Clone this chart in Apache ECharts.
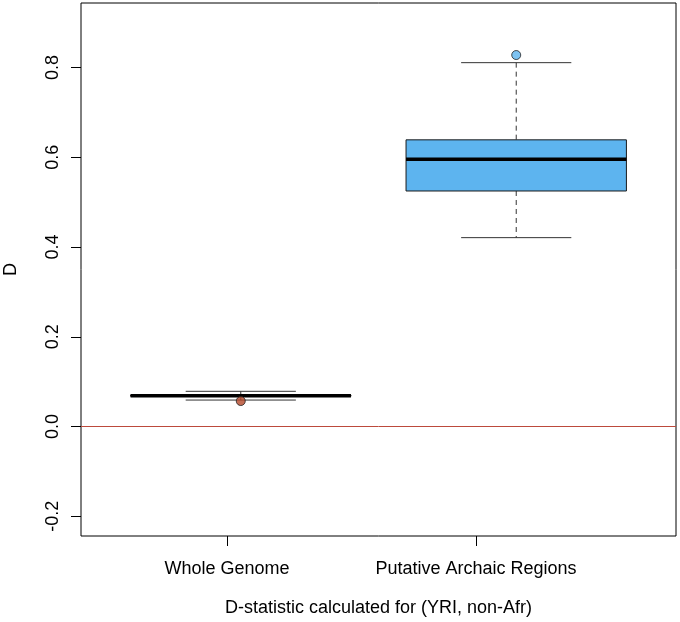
<!DOCTYPE html>
<html>
<head>
<meta charset="utf-8">
<script src="https://cdn.jsdelivr.net/npm/echarts@6/dist/echarts.min.js"></script>
<style>html,body{margin:0;padding:0;background:#fff;}#c{width:680px;height:622px;}</style>
</head>
<body>
<div id="c"></div>
<script>
// ---- data ----
const categories = ['Whole Genome', 'Putative Archaic Regions'];
const boxPositions = [1, 2];
const labelPositions = [0.95, 1.854];
const whiskerLow = [0.059, 0.421];
const q1 = [0.0675, 0.525];
const median = [0.0687, 0.596];
const q3 = [0.0700, 0.639];
const whiskerHigh = [0.0785, 0.811];
const outlierX = [1, 2];
const outlierY = [0.0568, 0.828];
const boxColors = ['#B5492B', '#5DB4EF'];
const yTicks = [-0.2, 0.0, 0.2, 0.4, 0.6, 0.8];

const font = '"Liberation Sans", Arial, Helvetica, sans-serif';
const boxData = boxPositions.map((x, i) => [x, whiskerLow[i], q1[i], median[i], q3[i], whiskerHigh[i]]);
const outlierData = outlierX.map((x, i) => ({value: [x, outlierY[i]], itemStyle: {color: boxColors[i]}}));

const chart = echarts.init(document.getElementById('c'), null, {renderer: 'canvas'});
chart.setOption({
  animation: false,
  backgroundColor: '#fff',
  grid: {left: 81, right: 4, top: 3, bottom: 86, containLabel: false, outerBoundsMode: 'none',
         show: true, borderColor: '#000', borderWidth: 1, backgroundColor: 'transparent'},
  xAxis: {
    type: 'value', min: 0.42, max: 2.58,
    name: 'D-statistic calculated for (YRI, non-Afr)',
    nameLocation: 'middle', nameGap: 63,
    nameTextStyle: {fontFamily: font, fontSize: 18, color: '#000'},
    axisLine: {show: false, onZero: false},
    splitLine: {show: false},
    axisTick: {show: true, length: 10, inside: false, customValues: labelPositions, lineStyle: {color: '#000', width: 1}},
    axisLabel: {
      customValues: labelPositions, margin: 24,
      fontFamily: font, fontSize: 18, color: '#000',
      formatter: v => { const i = labelPositions.findIndex(p => Math.abs(p - v) < 1e-6); return i >= 0 ? categories[i] : ''; }
    }
  },
  yAxis: {
    type: 'value', min: -0.244, max: 0.944,
    name: 'D', nameLocation: 'middle', nameGap: 61, nameRotate: 90,
    nameTextStyle: {fontFamily: font, fontSize: 18, color: '#000'},
    axisLine: {show: false, onZero: false},
    splitLine: {show: false},
    axisTick: {show: true, length: 10, customValues: yTicks, lineStyle: {color: '#000', width: 1}},
    axisLabel: {
      customValues: yTicks, rotate: 90, margin: 19,
      fontFamily: font, fontSize: 18, color: '#000',
      formatter: v => v.toFixed(1)
    }
  },
  series: [
    {
      type: 'custom',
      data: boxData,
      encode: {x: 0, y: [1, 2, 3, 4, 5]},
      renderItem: function (params, api) {
        const i = params.dataIndex;
        const x = api.value(0);
        const half = api.size([0.8, 0])[0] / 2;
        const capHalf = half / 2;
        const c = api.coord([x, 0])[0];
        const yLo = api.coord([x, api.value(1)])[1];
        const yQ1 = api.coord([x, api.value(2)])[1];
        const yMed = api.coord([x, api.value(3)])[1];
        const yQ3 = api.coord([x, api.value(4)])[1];
        const yHi = api.coord([x, api.value(5)])[1];
        const dash = {stroke: '#333', lineWidth: 1, lineDash: [5, 4]};
        const solid = {stroke: '#333', lineWidth: 1};
        return {
          type: 'group',
          children: [
            {type: 'line', shape: {x1: c, y1: yHi, x2: c, y2: yQ3}, style: dash},
            {type: 'line', shape: {x1: c, y1: yQ1, x2: c, y2: yLo}, style: dash},
            {type: 'line', shape: {x1: c - capHalf, y1: yHi, x2: c + capHalf, y2: yHi}, style: solid},
            {type: 'line', shape: {x1: c - capHalf, y1: yLo, x2: c + capHalf, y2: yLo}, style: solid},
            {type: 'rect', shape: {x: c - half, y: yQ3, width: 2 * half, height: yQ1 - yQ3}, style: {fill: boxColors[i], stroke: '#1a1a1a', lineWidth: 1}},
            {type: 'line', shape: {x1: c - half, y1: yMed, x2: c + half, y2: yMed}, style: {stroke: '#000', lineWidth: 3.5}}
          ]
        };
      },
      markLine: {
        silent: true, symbol: 'none', label: {show: false},
        lineStyle: {color: '#BC4A3C', width: 1, type: 'solid'},
        data: [{yAxis: 0}]
      }
    },
    {
      type: 'scatter',
      data: outlierData,
      symbol: 'circle', symbolSize: 9,
      itemStyle: {borderColor: '#222', borderWidth: 1},
      z: 5
    }
  ]
});
</script>
</body>
</html>
